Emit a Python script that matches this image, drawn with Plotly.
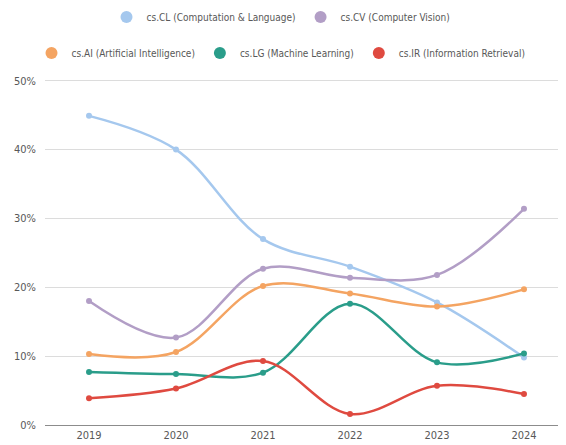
import plotly.graph_objects as go

years = [2019, 2020, 2021, 2022, 2023, 2024]
names = ["cs.CL (Computation & Language)", "cs.CV (Computer Vision)",
         "cs.AI (Artificial Intelligence)", "cs.LG (Machine Learning)",
         "cs.IR (Information Retrieval)"]
cl = [44.9, 40.0, 27.0, 23.0, 17.8, 9.8]
cv = [18.0, 12.7, 22.7, 21.4, 21.8, 31.4]
ai = [10.3, 10.6, 20.2, 19.1, 17.2, 19.7]
lg = [7.7, 7.4, 7.6, 17.6, 9.1, 10.4]
ir = [3.9, 5.3, 9.3, 1.6, 5.7, 4.5]
colors = ["#a5c8ee", "#b29ec6", "#f4a462", "#2a9d8a", "#df4a40"]
series = [cl, cv, ai, lg, ir]
legend_ids = ["legend", "legend", "legend2", "legend2", "legend2"]
y_ticks = [0, 10, 20, 30, 40, 50]
y_labels = ["0%", "10%", "20%", "30%", "40%", "50%"]

FONT = "Noto Sans Condensed, DejaVu Sans Condensed, Open Sans Condensed, Roboto Condensed, Liberation Sans Narrow, Roboto, sans-serif"
TXT = "#585858"

fig = go.Figure()
for name, vals, col in zip(names, series, colors):
    fig.add_trace(go.Scatter(
        x=years, y=vals, mode="lines+markers", name=name,
        line=dict(color=col, width=2.5, shape="spline", smoothing=1),
        marker=dict(color=col, size=6), showlegend=False,
        hovertemplate="%{y:.1f}%<extra>" + name + "</extra>"))
for name, col, lid in zip(names, colors, legend_ids):
    fig.add_trace(go.Scatter(
        x=[None], y=[None], mode="markers", name=name,
        marker=dict(color=col, size=16), legend=lid, showlegend=True))

# page has an 8px body margin, so the figure is 8px smaller on each axis
fig.update_layout(
    width=558, height=437,
    margin=dict(l=37, r=0, t=70, b=20, autoexpand=False),
    paper_bgcolor="white", plot_bgcolor="white",
    font=dict(family=FONT, size=11, color=TXT),
    legend=dict(orientation="h", x=0.453, xanchor="center", y=1.176, yanchor="middle",
                font=dict(size=10, color=TXT), itemwidth=30,
                itemsizing="constant", bgcolor="rgba(0,0,0,0)"),
    legend2=dict(orientation="h", x=0.453, xanchor="center", y=1.072, yanchor="middle",
                 font=dict(size=10, color=TXT), itemwidth=30,
                 itemsizing="constant", bgcolor="rgba(0,0,0,0)"),
    xaxis=dict(range=[2018.494, 2024.483], tickvals=years, ticktext=[str(y) for y in years],
               showgrid=False, showline=True, linecolor="#8c8c8c", linewidth=1,
               ticks="", zeroline=False, tickfont=dict(size=11, color=TXT)),
    yaxis=dict(range=[0, 50.4], tickvals=y_ticks, ticktext=y_labels,
               showgrid=True, gridcolor="#dcdcdc", gridwidth=1, zeroline=False,
               showline=False, ticks="", ticklabelstandoff=8,
               tickfont=dict(size=11, color=TXT)),
)
fig.write_html("out.html")
